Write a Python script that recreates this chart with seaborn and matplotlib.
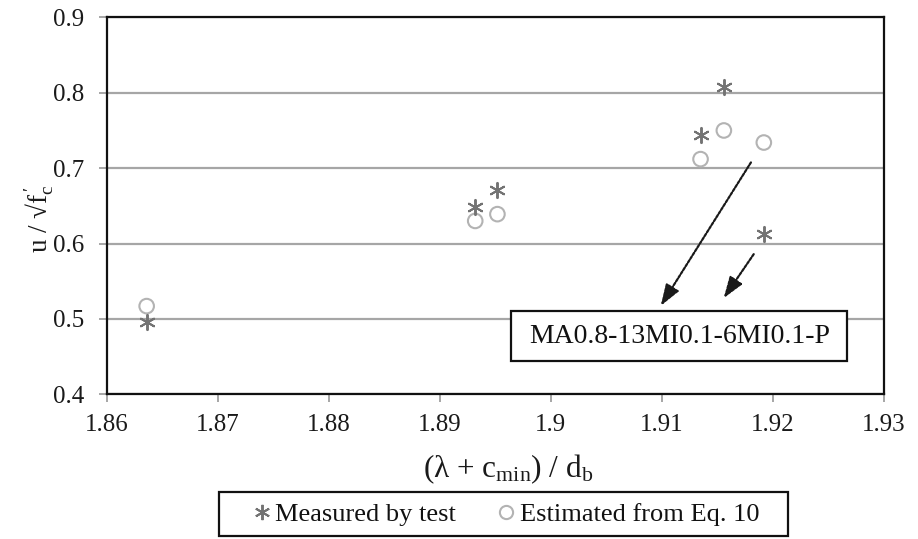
import matplotlib
matplotlib.use("Agg")
import matplotlib.pyplot as plt
from matplotlib.patches import Rectangle
import seaborn as sns
import pandas as pd

# ---- data ----
x_ratio = [1.8636, 1.8932, 1.8952, 1.9135, 1.9156, 1.9192]
measured = [0.496, 0.649, 0.671, 0.744, 0.808, 0.612]
estimated = [0.517, 0.630, 0.639, 0.712, 0.750, 0.734]
series_labels = ["Measured by test", "Estimated from Eq. 10"]
x_ticks = [1.86, 1.87, 1.88, 1.89, 1.90, 1.91, 1.92, 1.93]
x_tick_labels = ["1.86", "1.87", "1.88", "1.89", "1.9", "1.91", "1.92", "1.93"]
y_ticks = [0.4, 0.5, 0.6, 0.7, 0.8, 0.9]
y_tick_labels = ["0.4", "0.5", "0.6", "0.7", "0.8", "0.9"]
note_text = "MA0.8-13MI0.1-6MI0.1-P"

sns.set_style("white")
plt.rcParams["font.family"] = ["Liberation Serif", "DejaVu Serif"]
plt.rcParams["mathtext.fontset"] = "custom"
plt.rcParams["mathtext.rm"] = "Liberation Serif"
plt.rcParams["mathtext.it"] = "Liberation Serif:italic"

df_m = pd.DataFrame({"x": x_ratio, "y": measured})
df_e = pd.DataFrame({"x": x_ratio, "y": estimated})

W, H = 918, 539
fig = plt.figure(figsize=(W / 100, H / 100), dpi=100)
ax = fig.add_axes([106.7 / W, 1 - 394.3 / H, (883.7 - 106.7) / W, (394.3 - 17.4) / H])

ax.set_xlim(1.86, 1.93)
ax.set_ylim(0.4, 0.9)
ax.yaxis.grid(True, color="#a6a6a6", linewidth=1.6)
ax.xaxis.grid(False)
ax.set_axisbelow(True)

sns.scatterplot(data=df_e, x="x", y="y", ax=ax, marker="o", s=110,
                facecolors="none", edgecolors="#b3b3b3", linewidth=1.5,
                legend=False, zorder=3)
sns.scatterplot(data=df_m, x="x", y="y", ax=ax, marker=(6, 2, 0), s=120,
                color="#737373", linewidth=1.4,
                legend=False, zorder=4)

ax.set_xticks(x_ticks)
ax.set_xticklabels(x_tick_labels)
ax.set_yticks(y_ticks)
ax.set_yticklabels(y_tick_labels)
ax.tick_params(axis="both", which="major", direction="out", length=6, width=1.4,
               color="#a6a6a6", labelsize=18, labelcolor="#1a1a1a",
               bottom=True, left=True)
ax.tick_params(axis="x", pad=8)
ax.tick_params(axis="y", pad=10)

for sp in ax.spines.values():
    sp.set_color("#111111")
    sp.set_linewidth(1.6)

ax.set_xlabel(r"(λ + c$_{\mathrm{min}}$) / d$_{\mathrm{b}}$", fontsize=22.5, color="#1a1a1a")
ax.set_ylabel(r"u / √f$_{\mathrm{c}}^{\,\prime}$", fontsize=19.5, color="#1a1a1a")
ax.xaxis.set_label_coords((508 - 106.7) / 777.0, (394.3 - 452) / 376.9)
ax.yaxis.set_label_coords((56 - 106.7) / 777.0, 0.466)

# arrows
arrow_kw = dict(arrowstyle="-|>,head_length=1.3,head_width=0.45", color="#1a1a1a",
                lw=1.6, linestyle=(0, (1.2, 0.8)), shrinkA=0, shrinkB=0)
ax.annotate("", xy=(1.90991, 0.5173), xytext=(1.91804, 0.7076), arrowprops=arrow_kw, zorder=5)
ax.annotate("", xy=(1.91558, 0.5275), xytext=(1.91829, 0.5859), arrowprops=arrow_kw, zorder=5)

# note box
fig.patches.append(Rectangle((511.3 / W, 1 - 361.0 / H), 336.0 / W, 50.3 / H,
                             transform=fig.transFigure, facecolor="white",
                             edgecolor="#111111", linewidth=1.6, zorder=5))
fig.text(679.3 / W, 1 - 336.5 / H, note_text, fontsize=20, color="#111111",
         ha="center", va="center", zorder=6)

# legend
fig.patches.append(Rectangle((219.3 / W, 1 - 536.0 / H), (788.0 - 219.3) / W, 44.3 / H,
                             transform=fig.transFigure, facecolor="white",
                             edgecolor="#111111", linewidth=1.6, zorder=1))
handles = [
    plt.Line2D([], [], linestyle="none", marker=(6, 2, 0), markersize=11,
               markeredgecolor="#737373", markeredgewidth=1.4, color="#737373"),
    plt.Line2D([], [], linestyle="none", marker="o", markersize=9.5,
               markerfacecolor="none", markeredgecolor="#b3b3b3", markeredgewidth=1.5),
]
leg = fig.legend(handles, series_labels, loc="center", ncol=2,
                 bbox_to_anchor=(506 / W, 1 - 514 / H), fontsize=19,
                 frameon=False,
                 handlelength=0.7, handletextpad=0.15, columnspacing=1.55,
                 borderpad=0.0, borderaxespad=0)
leg.set_zorder(3)
for t in leg.get_texts():
    t.set_color("#111111")

fig.savefig("out.png", dpi=100)
